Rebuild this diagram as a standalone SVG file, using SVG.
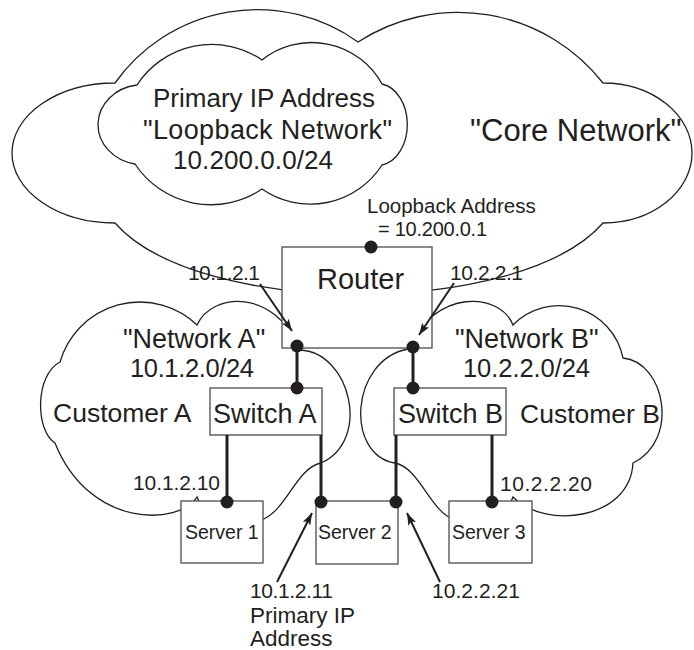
<svg xmlns="http://www.w3.org/2000/svg" width="694" height="650" viewBox="0 0 694 650">
<defs>
<style>
.cloud{fill:none;stroke:#231f20;stroke-width:1.3}
.box{fill:#fff;stroke:#58595b;stroke-width:1.4}
.t{font-family:"Liberation Sans",Arial,Helvetica,sans-serif;fill:#231f20}
.link{stroke:#231f20;stroke-width:3;fill:none}
.arr{stroke:#231f20;stroke-width:2;fill:none;marker-end:url(#ah)}
.dot{fill:#231f20}
</style>
<marker id="ah" markerUnits="userSpaceOnUse" markerWidth="14" markerHeight="10" refX="12" refY="5" orient="auto">
<path d="M0,0.8 L12,5 L0,9.2 L2.5,5 Z" fill="#231f20"/>
</marker>
</defs>
<rect width="694" height="650" fill="#fff"/>

<g id="core-network">
<path class="cloud" d="M115,223 A103,70 0 0 1 115,83 A174,174 0 0 1 358,42 A184,184 0 0 1 603,83 A89,70 0 0 1 603,223 C520,318 198,318 115,223 Z"/>
<text class="t" x="470" y="141" font-size="31">"Core Network"</text>
</g>

<g id="loopback-network">
<path class="cloud" d="M135,164 A45,40 0 0 1 137,85 A89,89 0 0 1 262,60 A80,80 0 0 1 382,84 A30,41 0 0 1 382,165 A85,85 0 0 1 262,189 A91,91 0 0 1 135,164 Z"/>
<text class="t" x="153" y="107" font-size="26">Primary IP Address</text>
<text class="t" x="143" y="139" font-size="27" textLength="249">"Loopback Network"</text>
<text class="t" x="173" y="169" font-size="26" textLength="160">10.200.0.0/24</text>
</g>

<g id="network-a">
<path class="cloud" d="M55,443 C35,430 35,375 60,362 A83,83 0 0 1 197,325 C212,292 275,288 300,350 C350,352 372,440 321,463 C296,468 286,512 261,520 C241,525 205,520 197,497 C180,525 90,530 55,443 Z"/>
<text class="t" x="123" y="348" font-size="27">"Network A"</text>
<text class="t" x="130" y="377" font-size="25.5" textLength="124">10.1.2.0/24</text>
<text class="t" x="53" y="422" font-size="26.5">Customer A</text>
</g>

<g id="network-b">
<path class="cloud" d="M408,349 C435,288 500,292 513,325 A65,65 0 0 1 623,358 C665,362 680,440 633,463 C630,520 545,530 513,497 C505,520 475,525 455,520 C430,512 420,468 395,463 C345,455 350,360 408,349 Z"/>
<text class="t" x="455" y="348" font-size="27">"Network B"</text>
<text class="t" x="463" y="377" font-size="25.5" textLength="127">10.2.2.0/24</text>
<text class="t" x="520" y="423" font-size="26.5">Customer B</text>
</g>

<g id="router">
<rect class="box" x="282" y="247" width="150" height="101"/>
<text class="t" x="317" y="289" font-size="29">Router</text>
<text class="t" x="367" y="213" font-size="20.5">Loopback Address</text>
<text class="t" x="378" y="236" font-size="20" textLength="109">= 10.200.0.1</text>
<text class="t" x="188" y="280" font-size="21" textLength="72">10.1.2.1</text>
<text class="t" x="450" y="280" font-size="21" textLength="73">10.2.2.1</text>
</g>

<g id="switch-a">
<rect class="box" x="210" y="388" width="112" height="47"/>
<text class="t" x="213" y="423" font-size="27">Switch A</text>
</g>

<g id="switch-b">
<rect class="box" x="394" y="388" width="112" height="47"/>
<text class="t" x="398" y="423" font-size="27">Switch B</text>
</g>

<g id="server-1">
<rect class="box" x="181" y="501" width="82" height="62"/>
<text class="t" x="185" y="539" font-size="19.5">Server 1</text>
<text class="t" x="133" y="490" font-size="21" textLength="87">10.1.2.10</text>
</g>

<g id="server-2">
<rect class="box" x="316" y="501" width="82" height="63"/>
<text class="t" x="318" y="539" font-size="19.5">Server 2</text>
<text class="t" x="250" y="598" font-size="21" textLength="83">10.1.2.11</text>
<text class="t" x="250" y="623" font-size="22.5">Primary IP</text>
<text class="t" x="250" y="646" font-size="22.5">Address</text>
<text class="t" x="432" y="598" font-size="21" textLength="88">10.2.2.21</text>
</g>

<g id="server-3">
<rect class="box" x="449" y="501" width="83" height="62"/>
<text class="t" x="452" y="539" font-size="19.5">Server 3</text>
<text class="t" x="500" y="491" font-size="21" textLength="92">10.2.2.20</text>
</g>

<g id="connectors">
<line class="link" x1="297" y1="346" x2="297" y2="388"/>
<line class="link" x1="413" y1="347" x2="413" y2="388"/>
<line class="link" x1="227" y1="435" x2="227" y2="502"/>
<line class="link" x1="321" y1="435" x2="321" y2="502"/>
<line class="link" x1="396" y1="435" x2="396" y2="502"/>
<line class="link" x1="492" y1="435" x2="492" y2="502"/>
<circle class="dot" cx="371" cy="247" r="6.5"/>
<circle class="dot" cx="297" cy="346" r="6.5"/>
<circle class="dot" cx="413" cy="347" r="6.5"/>
<circle class="dot" cx="297" cy="388" r="6.5"/>
<circle class="dot" cx="413" cy="388" r="6.5"/>
<circle class="dot" cx="227" cy="502" r="6.5"/>
<circle class="dot" cx="321" cy="502" r="6.5"/>
<circle class="dot" cx="396" cy="502" r="6.5"/>
<circle class="dot" cx="492" cy="502" r="6.5"/>
<line class="arr" x1="260" y1="284" x2="292" y2="331"/>
<line class="arr" x1="454" y1="283" x2="419" y2="335"/>
<line class="arr" x1="277" y1="582" x2="312" y2="513"/>
<line class="arr" x1="440" y1="582" x2="407" y2="513"/>
</g>
</svg>
